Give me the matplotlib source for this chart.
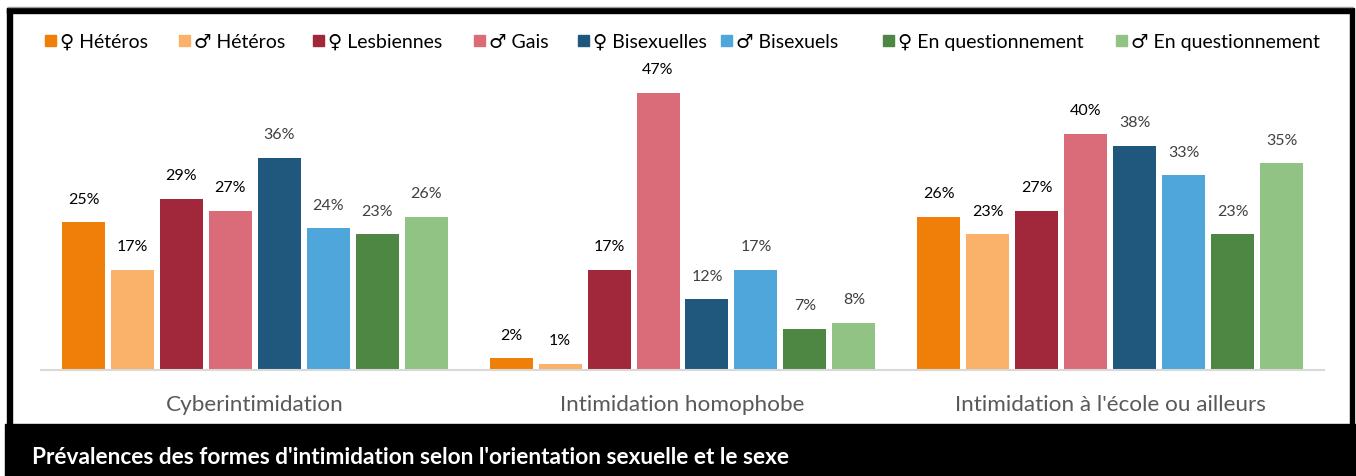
import numpy as np
import matplotlib.pyplot as plt
from matplotlib.patches import Rectangle

plt.rcParams['font.family'] = ['Lato', 'DejaVu Sans']

# Data
categories = ['Cyberintimidation', 'Intimidation homophobe', "Intimidation à l'école ou ailleurs"]
series = ['♀ Hétéros', '♂ Hétéros', '♀ Lesbiennes', '♂ Gais',
          '♀ Bisexuelles', '♂ Bisexuels', '♀ En questionnement', '♂ En questionnement']
values = [
    [25, 2, 26],
    [17, 1, 23],
    [29, 17, 27],
    [27, 47, 40],
    [36, 12, 38],
    [24, 17, 33],
    [23, 7, 23],
    [26, 8, 35],
]
colors = ['#F07F09', '#FAB169', '#A0283A', '#DA6B78',
          '#1F587C', '#4EA6DA', '#4E8743', '#91C384']
label_colors = ['#000000'] * 4 + ['#404040'] * 4
legend_x = [45, 179, 313, 474, 578, 721, 883, 1116]  # marker left edges, px
title = "Prévalences des formes d'intimidation selon l'orientation sexuelle et le sexe"

W, H = 1356, 477
fig = plt.figure(figsize=(W / 100, H / 100), dpi=100)

# frame / decoration layer in pixel coordinates
bg = fig.add_axes([0, 0, 1, 1], zorder=0)
bg.set_xlim(0, W)
bg.set_ylim(H, 0)
bg.axis('off')
bg.plot([8, 1352], [7.5, 7.5], color='#9a9a9a', lw=1)
bg.add_patch(Rectangle((7, 9), 5, 420, color='black'))
bg.add_patch(Rectangle((7, 9), 1346, 4.5, color='black'))
bg.add_patch(Rectangle((1350, 9), 3.5, 420, color='black'))
bg.add_patch(Rectangle((5, 425), W, 60, color='black'))
bg.text(32, 458, title, color='white', fontsize=16.3, fontweight='bold',
        va='center', ha='left')

# legend
for i, s in enumerate(series):
    bg.add_patch(Rectangle((legend_x[i], 36), 11, 11, color=colors[i]))
    bg.text(legend_x[i] + 15, 42.5, s, fontsize=14, color='#000000',
            va='center', ha='left')

# chart
ax = fig.add_axes([41 / W, (H - 371) / H, (1324 - 41) / W, 298 / H], zorder=1)
ax.patch.set_alpha(0)
x = np.arange(len(categories))
pitch = 49 / 428
width = 43 / 428
for i in range(len(series)):
    xs = x + (i - 3.5) * pitch
    ax.bar(xs, values[i], width=width, color=colors[i])
    for xx, v in zip(xs, values[i]):
        ax.annotate(f'{v}%', (xx, v), xytext=(0, 17), textcoords='offset points',
                    ha='center', va='center', fontsize=11.5, color=label_colors[i])

ax.set_xlim(-0.5, 2.5)
ax.set_ylim(0, 50.5)
for sp in ['top', 'right', 'left']:
    ax.spines[sp].set_visible(False)
ax.spines['bottom'].set_color('#D9D9D9')
ax.spines['bottom'].set_linewidth(1.5)
ax.set_yticks([])
ax.set_xticks(x)
ax.set_xticklabels(categories, fontsize=16.2, color='#595959')
ax.tick_params(axis='x', length=0, pad=17)

plt.savefig('out.png', dpi=100)
